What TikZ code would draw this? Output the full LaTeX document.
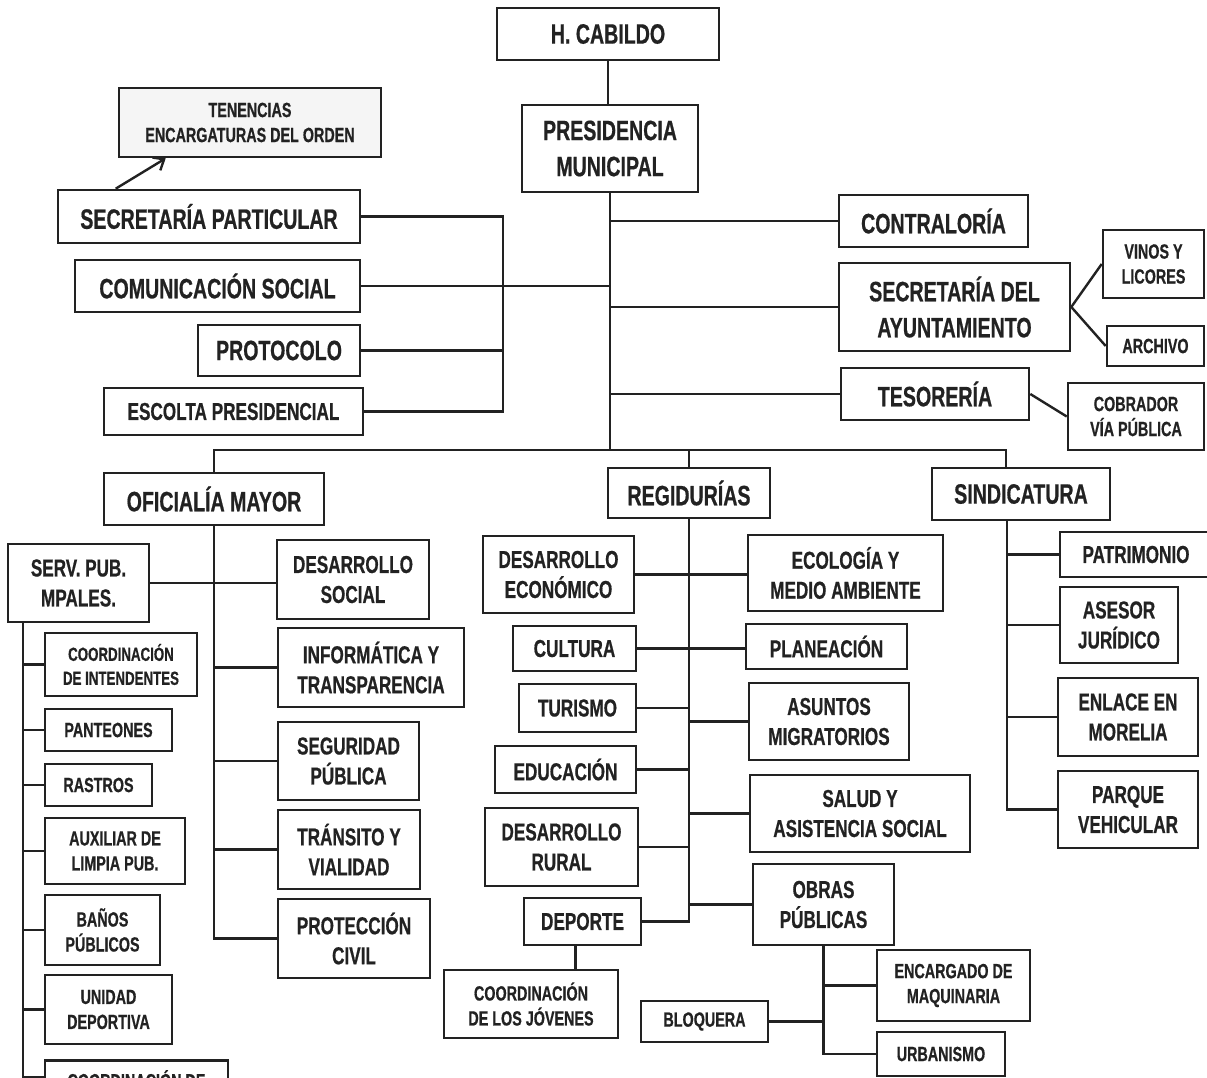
\documentclass[tikz,border=0pt]{standalone}
\usepackage{fontspec}
\newfontfamily\orgfont{Liberation Sans}[FakeStretch=0.7,FakeBold=0.6]
\usetikzlibrary{arrows.meta}
\definecolor{ink}{HTML}{222222}
\tikzset{
  box/.style={draw=ink, line width=2.6pt, text=ink, align=center, inner sep=0pt, fill=white},
  bigbox/.style={box, font=\orgfont\bfseries\fontsize{28}{36}\selectfont},
  midbox/.style={box, font=\orgfont\bfseries\fontsize{24.5}{30}\selectfont},
  smlbox/.style={box, font=\orgfont\bfseries\fontsize{20.5}{25}\selectfont},
  tinybox/.style={box, font=\orgfont\bfseries\fontsize{19}{24}\selectfont},
  link/.style={draw=ink, line width=2.4pt},
}
\newcommand\orgbox[7]{\node[#6, minimum width={(#4-#2)*1pt}, minimum height={(#5-#3)*1pt}] (#1) at ({(#2+#4)/2},{-(#3+#5)/2}) {#7};}
\begin{document}
\begin{tikzpicture}[x=1pt,y=1pt]
\useasboundingbox (0,0) rectangle (1207,-1078);
\fill[white] (0,0) rectangle (1207,-1078);
\clip (0,0) rectangle (1207,-1078);
% top
\orgbox{hc}{497}{8}{719}{60}{bigbox}{H. CABILDO}
\orgbox{pm}{522}{105}{698}{192}{bigbox}{PRESIDENCIA\\MUNICIPAL}
\orgbox{tn}{119}{88}{381}{157}{smlbox,fill=gray!8}{TENENCIAS\\ENCARGATURAS DEL ORDEN}
\orgbox{sp}{58}{190}{360}{243}{bigbox}{SECRETARÍA PARTICULAR}
\orgbox{cs}{75}{260}{360}{312}{bigbox}{COMUNICACIÓN SOCIAL}
\orgbox{pr}{198}{325}{360}{376}{bigbox}{PROTOCOLO}
\orgbox{es}{104}{388}{363}{435}{midbox}{ESCOLTA PRESIDENCIAL}
\orgbox{co}{839}{195}{1028}{247}{bigbox}{CONTRALORÍA}
\orgbox{sa}{839}{263}{1070}{351}{bigbox}{SECRETARÍA DEL\\AYUNTAMIENTO}
\orgbox{vl}{1103}{230}{1204}{298}{smlbox}{VINOS Y\\LICORES}
\orgbox{ar}{1107}{326}{1204}{366}{smlbox}{ARCHIVO}
\orgbox{te}{841}{368}{1029}{420}{bigbox}{TESORERÍA}
\orgbox{cb}{1068}{383}{1204}{450}{smlbox}{COBRADOR\\VÍA PÚBLICA}
% second level
\orgbox{om}{104}{473}{324}{525}{bigbox}{OFICIALÍA MAYOR}
\orgbox{re}{608}{468}{770}{518}{bigbox}{REGIDURÍAS}
\orgbox{si}{932}{468}{1110}{520}{bigbox}{SINDICATURA}
% oficialia
\orgbox{sv}{8}{544}{149}{622}{midbox}{SERV. PUB.\\MPALES.}
\orgbox{ds}{277}{540}{429}{619}{midbox}{DESARROLLO\\SOCIAL}
\orgbox{it}{278}{628}{464}{707}{midbox}{INFORMÁTICA Y\\TRANSPARENCIA}
\orgbox{sg}{278}{722}{419}{800}{midbox}{SEGURIDAD\\PÚBLICA}
\orgbox{tr}{278}{810}{420}{889}{midbox}{TRÁNSITO Y\\VIALIDAD}
\orgbox{pc}{278}{899}{430}{978}{midbox}{PROTECCIÓN\\CIVIL}
\orgbox{ci}{45}{633}{197}{696}{tinybox}{COORDINACIÓN\\DE INTENDENTES}
\orgbox{pn}{45}{709}{172}{751}{smlbox}{PANTEONES}
\orgbox{ra}{45}{764}{152}{806}{smlbox}{RASTROS}
\orgbox{au}{45}{818}{185}{884}{smlbox}{AUXILIAR DE\\LIMPIA PUB.}
\orgbox{bp}{45}{895}{160}{965}{smlbox}{BAÑOS\\PÚBLICOS}
\orgbox{ud}{45}{975}{172}{1044}{smlbox}{UNIDAD\\DEPORTIVA}
\node[smlbox, anchor=north, minimum width=183pt, text height=15pt, text depth=35pt, inner ysep=13pt] (cd) at (136.5,-1059) {COORDINACIÓN DE};
% regidurias
\orgbox{de}{483}{536}{634}{613}{midbox}{DESARROLLO\\ECONÓMICO}
\orgbox{ec}{748}{535}{943}{611}{midbox}{ECOLOGÍA Y\\MEDIO AMBIENTE}
\orgbox{cu}{513}{626}{636}{671}{midbox}{CULTURA}
\orgbox{pl}{746}{624}{907}{669}{midbox}{PLANEACIÓN}
\orgbox{tu}{519}{684}{636}{732}{midbox}{TURISMO}
\orgbox{am}{749}{683}{909}{760}{midbox}{ASUNTOS\\MIGRATORIOS}
\orgbox{ed}{495}{746}{636}{793}{midbox}{EDUCACIÓN}
\orgbox{sl}{750}{775}{970}{852}{midbox}{SALUD Y\\ASISTENCIA SOCIAL}
\orgbox{dr}{485}{808}{638}{886}{midbox}{DESARROLLO\\RURAL}
\orgbox{dp}{524}{898}{641}{945}{midbox}{DEPORTE}
\orgbox{ob}{753}{864}{894}{945}{midbox}{OBRAS\\PÚBLICAS}
\orgbox{cj}{444}{970}{618}{1038}{smlbox}{COORDINACIÓN\\DE LOS JÓVENES}
\orgbox{bl}{641}{1001}{768}{1042}{smlbox}{BLOQUERA}
\orgbox{en}{877}{950}{1030}{1021}{smlbox}{ENCARGADO DE\\MAQUINARIA}
\orgbox{ur}{877}{1032}{1005}{1076}{smlbox}{URBANISMO}
% sindicatura
\orgbox{pa}{1060}{532}{1212}{577}{midbox}{PATRIMONIO}
\orgbox{aj}{1060}{587}{1178}{663}{midbox}{ASESOR\\JURÍDICO}
\orgbox{em}{1058}{678}{1198}{756}{midbox}{ENLACE EN\\MORELIA}
\orgbox{pv}{1058}{771}{1198}{848}{midbox}{PARQUE\\VEHICULAR}
% junction coordinates
\coordinate (bar) at (610,-450);
\coordinate (lbr) at (503,-286);
\coordinate (svx) at (23,-1090);
\coordinate (sidrop) at ([xshift=-15pt]si.north);
\coordinate (sib) at ([xshift=-14pt]si.south);
% connectors
\draw[link] (hc.south) -- (hc.south |- pm.north);
\draw[link] (pm.south) -- (bar);
\draw[link] (sp.east) -| (lbr);
\draw[link] (es.east) -| (lbr);
\draw[link] (pr.east) -- (pr.east -| lbr);
\draw[link] (cs.east) -- (cs.east -| bar);
\draw[link] (co.west) -- (co.west -| bar);
\draw[link] (sa.west) -- (sa.west -| bar);
\draw[link] (te.west) -- (te.west -| bar);
\draw[link] (vl.west) -- (sa.east) -- (ar.west);
\draw[link] (te.east) -- (cb.west);
\draw[link, -{Straight Barb[length=9pt,width=15pt]}] ([xshift=59pt]sp.north west) -- ([xshift=48pt]tn.south west);
\draw[link] (om.north) |- (bar) -| (sidrop);
\draw[link] (re.north) -- (re.north |- bar);
% oficialia
\draw[link] (om.south) |- (pc.west);
\draw[link] (sv.east) -- (sv.east -| ds.west);
\foreach \n in {it,sg,tr} {\draw[link] (\n.west) -- (\n.west -| om.south);}
\draw[link] (sv.south -| svx) -- (svx);
\foreach \n in {ci,pn,ra,au,bp,ud} {\draw[link] (\n.west) -- (\n.west -| svx);}
\draw[link] ([yshift=-18pt]cd.north west) -- ([yshift=-18pt]cd.north west -| svx);
% regidurias
\draw[link] (re.south) |- (dp.east);
\draw[link] (de.east) -- (de.east -| ec.west);
\draw[link] (cu.east) -- (cu.east -| pl.west);
\foreach \n in {tu,ed,dr} {\draw[link] (\n.east) -- (\n.east -| re.south);}
\foreach \n in {am,sl,ob} {\draw[link] (\n.west) -- (\n.west -| re.south);}
\draw[link] ([xshift=-7pt]dp.south) -- ([xshift=-7pt]dp.south |- cj.north);
\draw[link] (ob.south) |- (ur.west);
\draw[link] (en.west) -- (en.west -| ob.south);
\draw[link] (bl.east) -- (bl.east -| ob.south);
% sindicatura
\draw[link] (sib) |- (pv.west);
\foreach \n in {pa,aj,em} {\draw[link] (\n.west) -- (\n.west -| sib);}
\end{tikzpicture}
\end{document}
